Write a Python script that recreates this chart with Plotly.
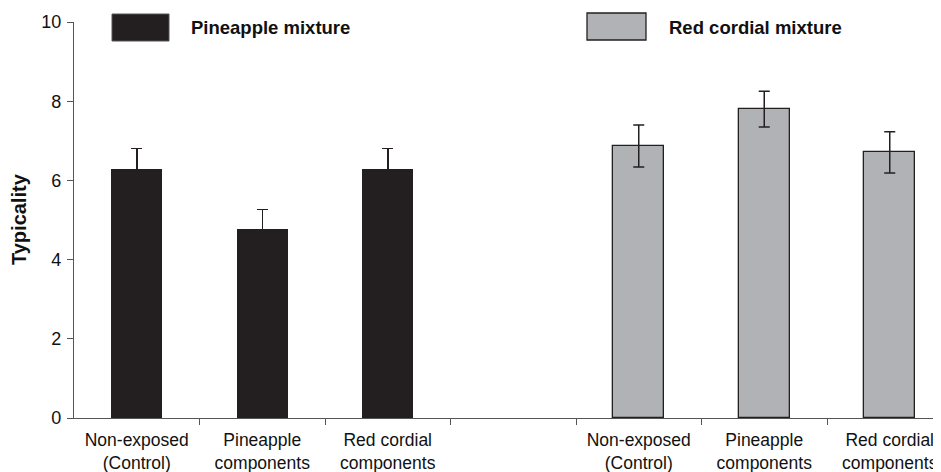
import plotly.graph_objects as go

categories = ["Non-exposed<br>(Control)", "Pineapple<br>components", "Red cordial<br>components", "",
              "Non-exposed<br>(Control)", "Pineapple<br>components", "Red cordial<br>components"]
pineapple_vals = [6.28, 4.78, 6.28]
pineapple_err = [0.52, 0.48, 0.52]
cordial_vals = [6.87, 7.80, 6.71]
cordial_err = [0.53, 0.45, 0.52]
yticks = [0, 2, 4, 6, 8, 10]

OFF = 8  # page body margin
W, H = 941 - OFF, 472 - OFF
L, R, T, B = 74 - OFF, 0, 22 - OFF, 54
pw, ph = W - L - R, H - T - B

xs_p = [0, 1, 2]
xs_c = [4, 5, 6]

FONT = "Liberation Sans, Arial, sans-serif"
DARK = "#231f20"
GRAY = "#b1b2b5"
AX = "#555555"

fig = go.Figure()
fig.add_trace(go.Bar(x=xs_p, y=pineapple_vals, width=0.41,
                     marker=dict(color=DARK, line=dict(color=DARK, width=0)),
                     error_y=dict(type="data", array=pineapple_err, visible=True,
                                  color=DARK, thickness=1.5, width=5.5),
                     showlegend=False))
fig.add_trace(go.Bar(x=xs_c, y=cordial_vals, width=0.41,
                     marker=dict(color=GRAY, line=dict(color=DARK, width=1.3)),
                     error_y=dict(type="data", array=cordial_err, visible=True,
                                  color=DARK, thickness=1.5, width=5.5),
                     showlegend=False))

slot = 125.5
xmax = -0.5 + pw / slot

label_idx = [i for i, c in enumerate(categories) if c]
fig.update_xaxes(range=[-0.5, xmax], tickmode="array", tickvals=label_idx,
                 ticktext=[categories[i] for i in label_idx], ticks="",
                 ticklabelstandoff=6,
                 showline=True, linecolor=AX, linewidth=1.3, showgrid=False, zeroline=False,
                 tickfont=dict(family=FONT, size=17.5, color="#111111"),
                 minor=dict(tickmode="array", tickvals=[i - 0.5 for i in range(1, 8)],
                            ticks="outside", ticklen=6, tickwidth=1.3, tickcolor=AX, showgrid=False))
fig.update_yaxes(range=[0, 10], tickmode="array", tickvals=yticks, ticks="outside",
                 ticklen=6, tickwidth=1.3, tickcolor=AX, showline=True, linecolor=AX,
                 linewidth=1.3, showgrid=False, zeroline=False, ticklabelstandoff=2,
                 tickfont=dict(family=FONT, size=18, color="#111111"))

def px(x):
    return (x - OFF - L) / pw

def py(y):
    return (H - B - (y - OFF)) / ph

shapes = [
    dict(type="rect", xref="paper", yref="paper", x0=px(112), x1=px(169), y0=py(41), y1=py(14),
         fillcolor=DARK, line=dict(color="#555555", width=1)),
    dict(type="rect", xref="paper", yref="paper", x0=px(587), x1=px(646), y0=py(40), y1=py(13),
         fillcolor=GRAY, line=dict(color=DARK, width=1.3)),
]
annotations = [
    dict(xref="paper", yref="paper", x=px(189), y=py(28), xanchor="left", yanchor="middle",
         text="<b>Pineapple mixture</b>", showarrow=False, font=dict(family=FONT, size=18.5, color="#111111")),
    dict(xref="paper", yref="paper", x=px(667), y=py(27), xanchor="left", yanchor="middle",
         text="<b>Red cordial mixture</b>", showarrow=False, font=dict(family=FONT, size=18.5, color="#111111")),
    dict(xref="paper", yref="paper", x=px(19), y=py(219), xanchor="center", yanchor="middle",
         text="<b>Typicality</b>", textangle=-90, showarrow=False, font=dict(family=FONT, size=20, color="#111111")),
]

fig.update_layout(width=W, height=H, margin=dict(l=L, r=R, t=T, b=B, autoexpand=False),
                  plot_bgcolor="white", paper_bgcolor="white", bargap=0,
                  shapes=shapes, annotations=annotations)

fig.write_html("out.html")
